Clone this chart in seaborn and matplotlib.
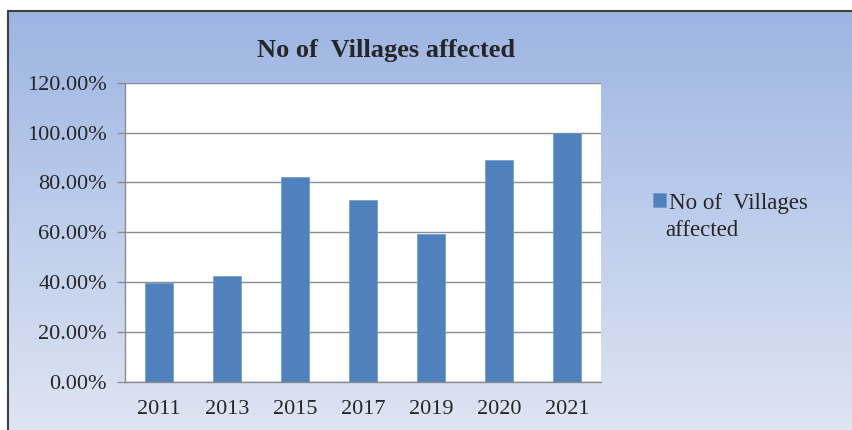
import matplotlib
matplotlib.use("Agg")
import matplotlib.pyplot as plt
import numpy as np
import pandas as pd
import seaborn as sns
from matplotlib.patches import Rectangle

years = ["2011", "2013", "2015", "2017", "2019", "2020", "2021"]
villages_pct = [39.5, 42.5, 82.0, 73.0, 59.3, 89.0, 100.0]
series_name = "No of  Villages affected"
bar_color = "#4F81BD"

sns.set_style("white")
plt.rcParams["font.family"] = ["Liberation Serif", "DejaVu Serif"]

W, H = 852, 430
fig = plt.figure(figsize=(W / 100, H / 100), dpi=100)
fig.patch.set_facecolor("white")

# gradient background of the chart area
bg = fig.add_axes([8 / W, 0, 1 - 8 / W, 1 - 11 / H], zorder=0)
grad = np.linspace(0, 1, 256).reshape(-1, 1)
cmap = matplotlib.colors.LinearSegmentedColormap.from_list("bg", ["#9DB5E3", "#DEE5F3"])
bg.imshow(grad, aspect="auto", cmap=cmap, extent=[0, 1, 0, 1])
bg.set_axis_off()
fig.patches.append(Rectangle((8 / W, -0.1), 1.2, 1 - 11 / H + 0.1, transform=fig.transFigure,
                             fill=False, edgecolor="#404040", linewidth=1.5, zorder=5))

df = pd.DataFrame({"year": years, "value": villages_pct})

ax = fig.add_axes([125 / W, 1 - 382 / H, (601 - 125) / W, (382 - 82.7) / H], zorder=2)
ax.set_facecolor("white")
sns.barplot(data=df, x="year", y="value", color=bar_color, width=0.4,
            saturation=1, ax=ax, label=series_name, edgecolor="#6E98CC", linewidth=0.5)
handles, labels = ax.get_legend_handles_labels()
if ax.get_legend() is not None:
    ax.get_legend().remove()

ax.set_ylim(0, 120)
ax.set_xlim(-0.5, len(years) - 0.5)
ax.set_yticks(np.arange(0, 121, 20))
ax.set_yticklabels([f"{v:.2f}%" for v in np.arange(0, 121, 20)], fontsize=16)
ax.yaxis.grid(True, color="#8C8C8C", linewidth=1)
ax.set_axisbelow(True)
ax.set_xlabel("")
ax.set_ylabel("")
ax.tick_params(axis="x", which="major", length=0, labelsize=16, pad=13)
ax.set_xticks(np.arange(-0.5, len(years), 1), minor=True)
ax.tick_params(axis="x", which="minor", length=6, color="#8C8C8C", width=1)
ax.tick_params(axis="y", length=6, color="#8C8C8C", width=1, left=True, pad=7)
for s in ["top", "right"]:
    ax.spines[s].set_visible(False)
for s in ["left", "bottom"]:
    ax.spines[s].set_color("#8C8C8C")
    ax.spines[s].set_linewidth(1)

fig.text(386 / W, 1 - 50 / H, series_name, ha="center", va="center",
         fontsize=19, fontweight="bold")

# legend: marker sits next to the first line, label wraps onto a second line
fig.legend(handles, ["No of  Villages"], loc="center left",
           bbox_to_anchor=(644 / W, 1 - 203 / H), frameon=False, fontsize=16.5,
           handlelength=0.55, handleheight=0.55, handletextpad=0.15, borderaxespad=0)
fig.text(665 / W, 1 - 231 / H, "affected", ha="left", va="center", fontsize=16.5)

fig.savefig("out.png", dpi=100)
